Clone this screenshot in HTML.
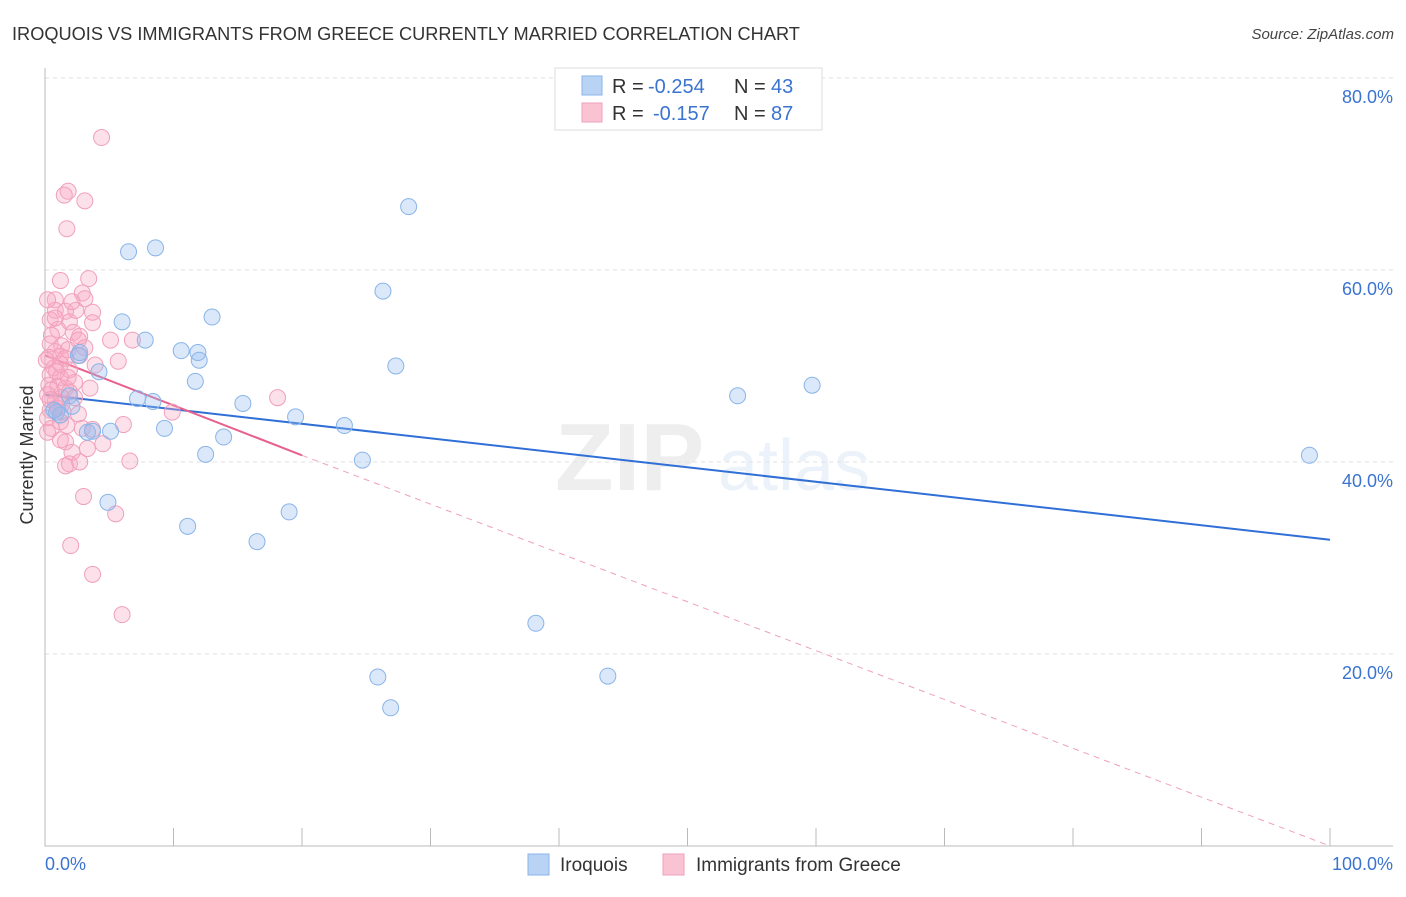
<!DOCTYPE html>
<html><head><meta charset="utf-8"><style>
body{margin:0;background:#fff;font-family:"Liberation Sans",sans-serif;}
svg text{font-family:"Liberation Sans",sans-serif;}
</style></head><body>
<svg id="chart" width="1406" height="892" xmlns="http://www.w3.org/2000/svg">
<text x="12" y="40" font-size="18.2" fill="#333">IROQUOIS VS IMMIGRANTS FROM GREECE CURRENTLY MARRIED CORRELATION CHART</text>
<text x="1394" y="39" font-size="15" fill="#444" font-style="italic" text-anchor="end">Source: ZipAtlas.com</text>
<g opacity="0.16">
<text x="555" y="490" font-size="96" font-family="Liberation Serif" fill="#999" font-weight="bold">ZIP</text>
<text x="718" y="490" font-size="72" fill="#8fb3e0">atlas</text>
</g>
<g id="grid"></g><g id="axes"></g><g id="lines"></g><g id="pts"></g>
<text transform="translate(33,455) rotate(-90)" font-size="18" fill="#333" text-anchor="middle">Currently Married</text>
<g font-size="20">
<rect x="555" y="68" width="267" height="62" fill="#fff" stroke="#ddd"/>
<rect x="582" y="76" width="20" height="19" fill="#b9d3f5" stroke="#8ab4e8"/>
<rect x="582" y="103" width="20" height="19" fill="#f9c3d4" stroke="#f0a0bb"/>
<text x="612" y="93" fill="#333">R =</text>
<text x="648" y="93" fill="#3a74d0">-0.254</text>
<text x="734" y="93" fill="#333">N =</text>
<text x="771" y="93" fill="#3a74d0">43</text>
<text x="612" y="120" fill="#333">R =</text>
<text x="653" y="120" fill="#3a74d0">-0.157</text>
<text x="734" y="120" fill="#333">N =</text>
<text x="771" y="120" fill="#3a74d0">87</text>
</g>
<g>
<rect x="528" y="854" width="21" height="21" fill="#b9d3f5" stroke="#8ab4e8"/>
<text x="560" y="871" font-size="19" fill="#333">Iroquois</text>
<rect x="663" y="854" width="21" height="21" fill="#f9c3d4" stroke="#f0a0bb"/>
<text x="696" y="871" font-size="19" fill="#333">Immigrants from Greece</text>
</g>
</svg>
<script>
const yTicks=[20,40,60,80];
const yTickLabels=["20.0%","40.0%","60.0%","80.0%"];
const xTicks=[0,10,20,30,40,50,60,70,80,90,100];
const blueX=[28.3,8.6,6.5,26.3,13.0,6.0,7.8,10.6,11.9,12.0,27.3,2.6,4.2,11.7,59.7,53.9,7.2,8.4,15.4,1.9,19.5,23.3,9.3,13.9,3.7,5.1,3.3,12.5,24.7,98.4,0.9,1.2,4.9,11.1,19.0,16.5,38.2,25.9,43.8,26.9,2.1,0.7,2.7];
const blueY=[66.6,62.3,61.9,57.8,55.1,54.6,52.7,51.6,51.4,50.6,50.0,51.1,49.4,48.4,48.0,46.9,46.6,46.3,46.1,46.9,44.7,43.8,43.5,42.6,43.2,43.2,43.1,40.8,40.2,40.7,45.2,44.9,35.8,33.3,34.8,31.7,23.2,17.6,17.7,14.4,45.8,45.4,51.4];
const pinkX=[4.4,1.8,1.5,3.1,1.7,1.2,3.4,0.8,2.9,3.1,0.8,1.6,2.4,3.7,0.4,1.9,3.7,1.0,2.2,0.5,2.7,5.1,6.8,0.4,1.3,1.8,0.8,1.2,2.7,0.3,1.6,5.7,0.7,1.9,0.4,1.2,2.3,0.3,1.0,1.6,0.5,1.9,0.2,1.3,0.8,18.1,9.9,0.4,1.4,2.6,0.2,1.2,1.7,2.9,3.7,6.1,0.2,1.2,1.6,4.5,3.3,2.1,6.6,1.6,1.9,2.7,3.0,5.5,2.0,3.7,6.0,0.2,0.8,2.1,2.6,1.2,3.1,3.9,0.4,1.0,1.8,2.3,0.5,1.3,3.5,0.1,0.9];
const pinkY=[73.8,68.2,67.8,67.2,64.3,58.9,59.1,56.9,57.6,57.0,55.8,55.7,55.8,55.6,54.8,54.6,54.5,53.8,53.5,53.2,53.1,52.7,52.7,52.3,52.1,51.7,51.5,51.0,51.1,50.9,50.8,50.5,49.8,49.6,49.1,48.8,48.3,48.0,47.9,47.7,47.5,47.3,47.0,46.7,46.3,46.7,45.2,45.4,45.2,45.0,44.6,44.2,43.8,43.5,43.4,43.9,43.1,42.3,42.1,41.9,41.4,41.0,40.1,39.6,39.8,40.0,36.4,34.6,31.3,28.3,24.1,56.9,55.0,56.7,52.7,50.2,51.9,50.1,46.5,45.6,48.8,46.7,43.5,46.0,47.7,50.6,49.4];
const blueTrend=[[0,47.0],[100,31.9]];
const pinkTrend=[[0,51.1],[20,40.7]];
const pinkDash=[[20,40.7],[100,0]];
const NS="http://www.w3.org/2000/svg";
const sx=v=>45+v*12.85, sy=v=>846-v*9.6;
function mk(tag,attrs,parent){const e=document.createElementNS(NS,tag);for(const k in attrs)e.setAttribute(k,attrs[k]);parent.appendChild(e);return e;}
const grid=document.getElementById('grid'),axes=document.getElementById('axes'),lines=document.getElementById('lines'),pts=document.getElementById('pts');
yTicks.forEach((t,i)=>{
 const l=mk('line',{x1:45,x2:1393,y1:sy(t),y2:sy(t),stroke:'#e2e2e2','stroke-dasharray':'4,4'},grid);
 
 
 const tx=mk('text',{x:1393,y:sy(t)+25,'font-size':18,fill:'#3a74d0','text-anchor':'end'},axes);
 tx.textContent=yTickLabels[i];
 
 
});
const ax=mk('path',{d:'M45 68 V846 H1393',fill:'none',stroke:'#bbb'},axes);


xTicks.forEach(t=>{
 const l=mk('line',{x1:sx(t),x2:sx(t),y1:828,y2:846,stroke:'#bbb'},axes);
 
 
});
const xl0=mk('text',{x:45,y:870,'font-size':18,fill:'#3a74d0'},axes);xl0.textContent='0.0%';


const xl1=mk('text',{x:1393,y:870,'font-size':18,fill:'#3a74d0','text-anchor':'end'},axes);xl1.textContent='100.0%';


function pt(xs,ys,fill,stroke,name){xs.forEach((x,i)=>{const c=mk('circle',{cx:sx(x),cy:sy(ys[i]),r:8,fill:fill,stroke:stroke,'stroke-width':1},pts);
 
 });}
pt(pinkX,pinkY,'rgba(248,170,195,0.35)','#f0a0bb','greece-point');
pt(blueX,blueY,'rgba(150,190,240,0.35)','#8ab4e8','iroquois-point');
const bl=mk('line',{x1:sx(blueTrend[0][0]),y1:sy(blueTrend[0][1]),x2:sx(blueTrend[1][0]),y2:sy(blueTrend[1][1]),stroke:'#2f6fd6','stroke-width':2},lines);


const pd=mk('line',{x1:sx(pinkDash[0][0]),y1:sy(pinkDash[0][1]),x2:sx(pinkDash[1][0]),y2:sy(pinkDash[1][1]),stroke:'#f0a0bb','stroke-width':1,'stroke-dasharray':'6,5'},lines);


const pl=mk('line',{x1:sx(pinkTrend[0][0]),y1:sy(pinkTrend[0][1]),x2:sx(pinkTrend[1][0]),y2:sy(pinkTrend[1][1]),stroke:'#e8608c','stroke-width':2},lines);


</script>
</body></html>
